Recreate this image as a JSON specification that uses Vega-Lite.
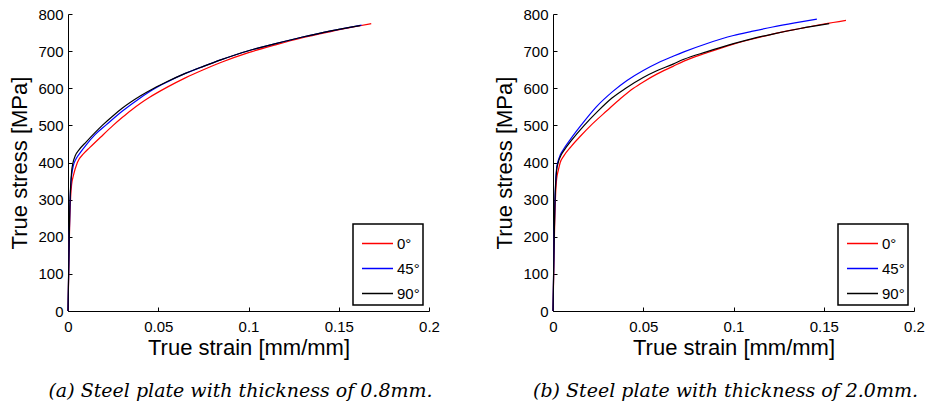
{
  "$schema": "https://vega.github.io/schema/vega-lite/v6.json",
  "background": "white",
  "padding": {"left": 8, "top": 7, "right": 0, "bottom": 0},
  "spacing": 124,
  "bounds": "flush",
  "config": {
    "view": {"stroke": null},
    "font": "Liberation Sans",
    "axis": {
      "grid": false,
      "domainColor": "black",
      "domainWidth": 1,
      "tickColor": "black",
      "tickSize": -4,
      "tickWidth": 1,
      "labelColor": "black",
      "labelFont": "Liberation Sans",
      "labelFontSize": 15,
      "labelFlush": false,
      "labelOverlap": false,
      "titleColor": "black",
      "titleFont": "Liberation Sans",
      "titleFontSize": 22,
      "titleFontWeight": "normal"
    },
    "legend": {
      "orient": "bottom-right",
      "offset": 6,
      "title": null,
      "strokeColor": "black",
      "strokeWidth": 1.5,
      "fillColor": "white",
      "padding": 3,
      "symbolType": "stroke",
      "symbolSize": 961,
      "symbolStrokeWidth": 1.5,
      "symbolOffset": 5,
      "labelFont": "Liberation Sans",
      "labelFontSize": 15,
      "labelColor": "black",
      "labelOffset": 3,
      "rowPadding": 0
    },
    "title": {
      "font": "DejaVu Serif",
      "fontStyle": "italic",
      "fontWeight": "normal",
      "fontSize": 19,
      "color": "black"
    }
  },
  "datasets": {
    "a": [
      {"angle": "0°", "strain": 0, "stress": 0},
      {"angle": "0°", "strain": 0.0005, "stress": 130},
      {"angle": "0°", "strain": 0.001, "stress": 250},
      {"angle": "0°", "strain": 0.0015, "stress": 310},
      {"angle": "0°", "strain": 0.002, "stress": 340},
      {"angle": "0°", "strain": 0.003, "stress": 365},
      {"angle": "0°", "strain": 0.0052, "stress": 400},
      {"angle": "0°", "strain": 0.0089, "stress": 425},
      {"angle": "0°", "strain": 0.012, "stress": 440},
      {"angle": "0°", "strain": 0.018, "stress": 468},
      {"angle": "0°", "strain": 0.025, "stress": 500},
      {"angle": "0°", "strain": 0.03, "stress": 521},
      {"angle": "0°", "strain": 0.035, "stress": 541},
      {"angle": "0°", "strain": 0.04, "stress": 559},
      {"angle": "0°", "strain": 0.045, "stress": 575},
      {"angle": "0°", "strain": 0.055, "stress": 603},
      {"angle": "0°", "strain": 0.065, "stress": 628},
      {"angle": "0°", "strain": 0.075, "stress": 650},
      {"angle": "0°", "strain": 0.085, "stress": 670},
      {"angle": "0°", "strain": 0.1, "stress": 696},
      {"angle": "0°", "strain": 0.115, "stress": 717},
      {"angle": "0°", "strain": 0.13, "stress": 736},
      {"angle": "0°", "strain": 0.145, "stress": 752},
      {"angle": "0°", "strain": 0.158, "stress": 765},
      {"angle": "0°", "strain": 0.168, "stress": 774},
      {"angle": "45°", "strain": 0, "stress": 0},
      {"angle": "45°", "strain": 0.0005, "stress": 140},
      {"angle": "45°", "strain": 0.001, "stress": 270},
      {"angle": "45°", "strain": 0.0015, "stress": 335},
      {"angle": "45°", "strain": 0.002, "stress": 365},
      {"angle": "45°", "strain": 0.003, "stress": 392},
      {"angle": "45°", "strain": 0.0045, "stress": 410},
      {"angle": "45°", "strain": 0.007, "stress": 428},
      {"angle": "45°", "strain": 0.01, "stress": 447},
      {"angle": "45°", "strain": 0.015, "stress": 475},
      {"angle": "45°", "strain": 0.0213, "stress": 502},
      {"angle": "45°", "strain": 0.03, "stress": 538},
      {"angle": "45°", "strain": 0.04, "stress": 574},
      {"angle": "45°", "strain": 0.0476, "stress": 598},
      {"angle": "45°", "strain": 0.055, "stress": 617},
      {"angle": "45°", "strain": 0.065, "stress": 640},
      {"angle": "45°", "strain": 0.075, "stress": 659},
      {"angle": "45°", "strain": 0.085, "stress": 677},
      {"angle": "45°", "strain": 0.1, "stress": 701},
      {"angle": "45°", "strain": 0.115, "stress": 720},
      {"angle": "45°", "strain": 0.13, "stress": 738},
      {"angle": "45°", "strain": 0.145, "stress": 754},
      {"angle": "45°", "strain": 0.156, "stress": 764},
      {"angle": "45°", "strain": 0.1626, "stress": 770},
      {"angle": "90°", "strain": 0, "stress": 0},
      {"angle": "90°", "strain": 0.0005, "stress": 150},
      {"angle": "90°", "strain": 0.001, "stress": 280},
      {"angle": "90°", "strain": 0.0015, "stress": 340},
      {"angle": "90°", "strain": 0.002, "stress": 375},
      {"angle": "90°", "strain": 0.0028, "stress": 400},
      {"angle": "90°", "strain": 0.004, "stress": 418},
      {"angle": "90°", "strain": 0.0061, "stress": 434},
      {"angle": "90°", "strain": 0.01, "stress": 455},
      {"angle": "90°", "strain": 0.019, "stress": 500},
      {"angle": "90°", "strain": 0.025, "stress": 526},
      {"angle": "90°", "strain": 0.03, "stress": 546},
      {"angle": "90°", "strain": 0.04, "stress": 579},
      {"angle": "90°", "strain": 0.0476, "stress": 600},
      {"angle": "90°", "strain": 0.055, "stress": 618},
      {"angle": "90°", "strain": 0.065, "stress": 640},
      {"angle": "90°", "strain": 0.075, "stress": 659},
      {"angle": "90°", "strain": 0.085, "stress": 677},
      {"angle": "90°", "strain": 0.1, "stress": 701},
      {"angle": "90°", "strain": 0.115, "stress": 720},
      {"angle": "90°", "strain": 0.13, "stress": 738},
      {"angle": "90°", "strain": 0.145, "stress": 754},
      {"angle": "90°", "strain": 0.156, "stress": 764},
      {"angle": "90°", "strain": 0.162, "stress": 769}
    ],
    "b": [
      {"angle": "0°", "strain": 0, "stress": 0},
      {"angle": "0°", "strain": 0.0005, "stress": 130},
      {"angle": "0°", "strain": 0.001, "stress": 250},
      {"angle": "0°", "strain": 0.0015, "stress": 320},
      {"angle": "0°", "strain": 0.002, "stress": 355},
      {"angle": "0°", "strain": 0.003, "stress": 380},
      {"angle": "0°", "strain": 0.004, "stress": 400},
      {"angle": "0°", "strain": 0.006, "stress": 418},
      {"angle": "0°", "strain": 0.01, "stress": 443},
      {"angle": "0°", "strain": 0.015, "stress": 470},
      {"angle": "0°", "strain": 0.021, "stress": 500},
      {"angle": "0°", "strain": 0.03, "stress": 540},
      {"angle": "0°", "strain": 0.0376, "stress": 573},
      {"angle": "0°", "strain": 0.0446, "stress": 600},
      {"angle": "0°", "strain": 0.05, "stress": 617},
      {"angle": "0°", "strain": 0.0575, "stress": 638},
      {"angle": "0°", "strain": 0.0665, "stress": 659},
      {"angle": "0°", "strain": 0.0725, "stress": 673},
      {"angle": "0°", "strain": 0.085, "stress": 695},
      {"angle": "0°", "strain": 0.1, "stress": 719},
      {"angle": "0°", "strain": 0.11, "stress": 732},
      {"angle": "0°", "strain": 0.1217, "stress": 746},
      {"angle": "0°", "strain": 0.137, "stress": 761},
      {"angle": "0°", "strain": 0.15, "stress": 773},
      {"angle": "0°", "strain": 0.1623, "stress": 783},
      {"angle": "45°", "strain": 0, "stress": 0},
      {"angle": "45°", "strain": 0.0005, "stress": 150},
      {"angle": "45°", "strain": 0.001, "stress": 285},
      {"angle": "45°", "strain": 0.0015, "stress": 350},
      {"angle": "45°", "strain": 0.002, "stress": 385},
      {"angle": "45°", "strain": 0.0026, "stress": 400},
      {"angle": "45°", "strain": 0.004, "stress": 420},
      {"angle": "45°", "strain": 0.006, "stress": 437},
      {"angle": "45°", "strain": 0.01, "stress": 465},
      {"angle": "45°", "strain": 0.0158, "stress": 502},
      {"angle": "45°", "strain": 0.024, "stress": 550},
      {"angle": "45°", "strain": 0.033, "stress": 591},
      {"angle": "45°", "strain": 0.041, "stress": 621},
      {"angle": "45°", "strain": 0.05, "stress": 648},
      {"angle": "45°", "strain": 0.058, "stress": 668},
      {"angle": "45°", "strain": 0.0665, "stress": 686},
      {"angle": "45°", "strain": 0.0725, "stress": 698},
      {"angle": "45°", "strain": 0.085, "stress": 720},
      {"angle": "45°", "strain": 0.1, "stress": 742},
      {"angle": "45°", "strain": 0.11, "stress": 753},
      {"angle": "45°", "strain": 0.1217, "stress": 765},
      {"angle": "45°", "strain": 0.134, "stress": 776},
      {"angle": "45°", "strain": 0.1462, "stress": 786},
      {"angle": "90°", "strain": 0, "stress": 0},
      {"angle": "90°", "strain": 0.0005, "stress": 150},
      {"angle": "90°", "strain": 0.001, "stress": 280},
      {"angle": "90°", "strain": 0.0015, "stress": 345},
      {"angle": "90°", "strain": 0.002, "stress": 378},
      {"angle": "90°", "strain": 0.0029, "stress": 400},
      {"angle": "90°", "strain": 0.0045, "stress": 420},
      {"angle": "90°", "strain": 0.0063, "stress": 434},
      {"angle": "90°", "strain": 0.01, "stress": 458},
      {"angle": "90°", "strain": 0.0173, "stress": 500},
      {"angle": "90°", "strain": 0.025, "stress": 539},
      {"angle": "90°", "strain": 0.0325, "stress": 573},
      {"angle": "90°", "strain": 0.0403, "stress": 600},
      {"angle": "90°", "strain": 0.05, "stress": 629},
      {"angle": "90°", "strain": 0.0575, "stress": 647},
      {"angle": "90°", "strain": 0.0665, "stress": 665},
      {"angle": "90°", "strain": 0.0725, "stress": 678},
      {"angle": "90°", "strain": 0.085, "stress": 698},
      {"angle": "90°", "strain": 0.1, "stress": 720},
      {"angle": "90°", "strain": 0.11, "stress": 733},
      {"angle": "90°", "strain": 0.1217, "stress": 746},
      {"angle": "90°", "strain": 0.137, "stress": 761},
      {"angle": "90°", "strain": 0.153, "stress": 774}
    ]
  },
  "resolve": {"legend": {"color": "independent"}, "scale": {"color": "independent"}},
  "hconcat": [
    {
      "width": 361,
      "height": 297,
      "data": {"name": "a"},
      "title": {"text": "(a) Steel plate with thickness of 0.8mm.", "orient": "bottom", "offset": 24, "dx": -8},
      "mark": {"type": "line", "strokeWidth": 1.2, "interpolate": "monotone"},
      "encoding": {
        "x": {"field": "strain", "type": "quantitative", "scale": {"domain": [0, 0.2], "nice": false},
              "axis": {"title": "True strain [mm/mm]", "values": [0, 0.05, 0.1, 0.15, 0.2], "format": "~g", "labelPadding": 12, "titlePadding": 3}},
        "y": {"field": "stress", "type": "quantitative", "scale": {"domain": [0, 800], "nice": false},
              "axis": {"title": "True stress [MPa]", "values": [0, 100, 200, 300, 400, 500, 600, 700, 800], "labelPadding": 9, "titlePadding": 6}},
        "color": {"field": "angle", "type": "nominal", "sort": ["0°", "45°", "90°"],
                  "scale": {"domain": ["0°", "45°", "90°"], "range": ["#ff0000", "#0000ff", "#000000"]}}
      }
    },
    {
      "width": 361,
      "height": 297,
      "data": {"name": "b"},
      "title": {"text": "(b) Steel plate with thickness of 2.0mm.", "orient": "bottom", "offset": 24, "dx": -8},
      "mark": {"type": "line", "strokeWidth": 1.2, "interpolate": "monotone"},
      "encoding": {
        "x": {"field": "strain", "type": "quantitative", "scale": {"domain": [0, 0.2], "nice": false},
              "axis": {"title": "True strain [mm/mm]", "values": [0, 0.05, 0.1, 0.15, 0.2], "format": "~g", "labelPadding": 12, "titlePadding": 3}},
        "y": {"field": "stress", "type": "quantitative", "scale": {"domain": [0, 800], "nice": false},
              "axis": {"title": "True stress [MPa]", "values": [0, 100, 200, 300, 400, 500, 600, 700, 800], "labelPadding": 9, "titlePadding": 6}},
        "color": {"field": "angle", "type": "nominal", "sort": ["0°", "45°", "90°"],
                  "scale": {"domain": ["0°", "45°", "90°"], "range": ["#ff0000", "#0000ff", "#000000"]}}
      }
    }
  ]
}
